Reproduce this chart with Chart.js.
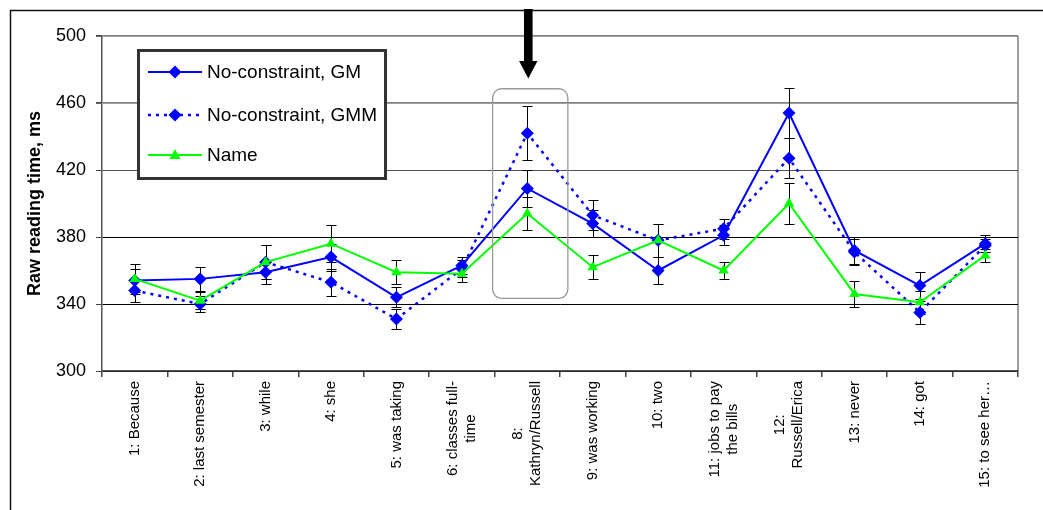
<!DOCTYPE html>
<html>
<head>
<meta charset="utf-8">
<script src="https://cdn.jsdelivr.net/npm/chart.js@4.4.1/dist/chart.umd.min.js"></script>
<style>
body{margin:0;background:#fff;}
</style>
</head>
<body>
<canvas id="rtChart" width="1043" height="510"></canvas>
<script>
// regions of the sentence (no region 7)
const regions = [
    ['1: Because'], ['2: last semester'], ['3: while'], ['4: she'], ['5: was taking'],
    ['6: classes full-', 'time'], ['8:', 'Kathryn/Russell'], ['9: was working'], ['10: two'],
    ['11: jobs to pay', 'the bills'], ['12:', 'Russell/Erica'], ['13: never'], ['14: got'], ['15: to see her…']
];
const gm      = [354, 355, 359, 368, 344, 363, 409, 388, 360, 381, 454, 372, 351, 376];
const gmm     = [348, 340, 365, 353, 331, 361, 442, 393, 378, 385, 427, 371, 335, 375];
const nameRt  = [355, 342, 365, 376, 359, 358, 394, 362, 378, 360, 400, 346, 341, 369];
const gmErr   = [7, 7, 7, 8, 6, 5, 11, 8, 8, 6, 15, 8, 8, 5];
const gmmErr  = [7, 5, 10, 8, 6, 5, 16, 9, 10, 6, 12, 8, 7, 4];
const nameErr = [9, 5, 10, 11, 7, 5, 10, 7, 10, 5, 12, 8, 7, 4];
const yTicks  = [300, 340, 380, 420, 460, 500];
const errs = [gmErr, gmmErr, nameErr];
const highlight = 6; // index of "8: Kathryn/Russell"

const FONT = "'Liberation Sans', Arial, sans-serif";

const frame = {
    id: 'frame',
    beforeDraw(chart){
        const ctx = chart.ctx, a = chart.chartArea;
        ctx.save();
        ctx.strokeStyle = '#111';
        ctx.lineWidth = 1.5;
        ctx.beginPath();
        ctx.moveTo(10.5, 1043); ctx.lineTo(10.5, 10.5); ctx.lineTo(1043, 10.5);
        ctx.stroke();
        ctx.strokeStyle = '#808080';
        ctx.lineWidth = 1.5;
        ctx.beginPath();
        ctx.moveTo(a.right, a.top); ctx.lineTo(a.right, a.bottom);
        ctx.stroke();
        ctx.restore();
    }
};

const errorBars = {
    id: 'errorBars',
    beforeDatasetsDraw(chart){
        const ctx = chart.ctx;
        const xs = chart.scales.x, ys = chart.scales.y;
        ctx.save();
        ctx.strokeStyle = '#000';
        ctx.lineWidth = 1;
        chart.data.datasets.forEach((ds, d) => {
            ds.data.forEach((v, i) => {
                const px = Math.round(xs.getPixelForValue(i)) + 0.5;
                const top = Math.round(ys.getPixelForValue(v + errs[d][i])) + 0.5;
                const bot = Math.round(ys.getPixelForValue(v - errs[d][i])) + 0.5;
                ctx.beginPath();
                ctx.moveTo(px, top); ctx.lineTo(px, bot);
                ctx.moveTo(px - 5, top); ctx.lineTo(px + 5, top);
                ctx.moveTo(px - 5, bot); ctx.lineTo(px + 5, bot);
                ctx.stroke();
            });
        });
        ctx.restore();
    }
};

function marker(ctx, style, x, y, color){
    ctx.fillStyle = color;
    ctx.beginPath();
    if(style == 'triangle'){
        ctx.moveTo(x, y - 6); ctx.lineTo(x + 5.5, y + 4); ctx.lineTo(x - 5.5, y + 4);
    }else{
        ctx.moveTo(x - 6.5, y); ctx.lineTo(x, y - 6.5); ctx.lineTo(x + 6.5, y); ctx.lineTo(x, y + 6.5);
    }
    ctx.closePath();
    ctx.fill();
}

const extras = {
    id: 'extras',
    afterDatasetsDraw(chart){
        const ctx = chart.ctx, a = chart.chartArea;
        const xs = chart.scales.x, ys = chart.scales.y;
        ctx.save();

        // rounded box round region 8
        const l = xs.getPixelForValue(highlight - 0.53), r = xs.getPixelForValue(highlight + 0.62);
        const t = ys.getPixelForValue(468.5), b = ys.getPixelForValue(343.4), rad = 9;
        ctx.strokeStyle = '#999';
        ctx.lineWidth = 1.3;
        ctx.beginPath();
        ctx.moveTo(l + rad, t);
        ctx.arcTo(r, t, r, b, rad); ctx.arcTo(r, b, l, b, rad);
        ctx.arcTo(l, b, l, t, rad); ctx.arcTo(l, t, r, t, rad);
        ctx.closePath();
        ctx.stroke();

        // arrow pointing at it
        const cx = xs.getPixelForValue(highlight) + 1;
        const tip = ys.getPixelForValue(474.7);
        ctx.fillStyle = '#000';
        ctx.fillRect(cx - 4.3, a.top - 27, 8.6, tip - 17 - (a.top - 27));
        ctx.beginPath();
        ctx.moveTo(cx - 9.2, tip - 17.5); ctx.lineTo(cx + 9.2, tip - 17.5); ctx.lineTo(cx, tip);
        ctx.closePath();
        ctx.fill();

        // legend
        ctx.fillStyle = '#fff';
        ctx.fillRect(137, 49, 250, 131);
        ctx.strokeStyle = '#333';
        ctx.lineWidth = 3;
        ctx.strokeRect(138.5, 50.5, 247, 128);
        const rows = [72, 115, 155];
        ctx.font = '19px ' + FONT;
        ctx.textBaseline = 'middle';
        ctx.textAlign = 'left';
        chart.data.datasets.forEach((ds, d) => {
            const y = rows[d];
            ctx.strokeStyle = ds.borderColor;
            ctx.lineWidth = ds.borderWidth;
            ctx.setLineDash(ds.borderDash || []);
            ctx.beginPath();
            ctx.moveTo(148, y); ctx.lineTo(202, y);
            ctx.stroke();
            ctx.setLineDash([]);
            marker(ctx, ds.pointStyle, 175, y, ds.pointBackgroundColor);
            ctx.fillStyle = '#000';
            ctx.fillText(ds.label, 207, y + 1);
        });
        ctx.restore();
    },
    afterDraw(chart){
        // category labels, rotated, lines centred
        const ctx = chart.ctx, xs = chart.scales.x;
        ctx.save();
        ctx.font = '15px ' + FONT;
        ctx.fillStyle = '#000';
        ctx.textAlign = 'center';
        ctx.textBaseline = 'middle';
        const lh = 18;
        regions.forEach((lines, i) => {
            const cx = xs.getPixelForValue(i);
            const w = Math.max(...lines.map(s => ctx.measureText(s).width));
            ctx.save();
            ctx.translate(cx, xs.top + 10 + w / 2);
            ctx.rotate(-Math.PI / 2);
            lines.forEach((s, j) => {
                ctx.fillText(s, 0, (j - (lines.length - 1) / 2) * lh);
            });
            ctx.restore();
        });
        ctx.restore();
    }
};

new Chart(document.getElementById('rtChart').getContext('2d'), {
    type: 'line',
    data: {
        labels: regions,
        datasets: [{
            label: 'No-constraint, GM',
            data: gm,
            borderColor: '#0000ff',
            borderWidth: 2,
            pointStyle: 'rectRot',
            pointRadius: 6.5,
            pointBorderWidth: 0,
            pointBackgroundColor: '#0000ff',
            tension: 0,
            order: 2
        }, {
            label: 'No-constraint, GMM',
            data: gmm,
            borderColor: '#0000ff',
            borderWidth: 2.5,
            borderDash: [3, 5],
            pointStyle: 'rectRot',
            pointRadius: 6.5,
            pointBorderWidth: 0,
            pointBackgroundColor: '#0000ff',
            tension: 0,
            order: 3
        }, {
            label: 'Name',
            data: nameRt,
            borderColor: '#00ff00',
            borderWidth: 2,
            pointStyle: 'triangle',
            pointRadius: 6,
            pointBorderWidth: 0,
            pointBackgroundColor: '#00ff00',
            tension: 0,
            order: 1
        }]
    },
    options: {
        responsive: false,
        animation: false,
        layout: { padding: { left: 10, top: 36, right: 25, bottom: 0 } },
        plugins: { legend: { display: false }, tooltip: { enabled: false } },
        scales: {
            x: {
                offset: true,
                afterFit: s => { s.height = 139; },
                ticks: { display: false },
                grid: { offset: true, drawOnChartArea: false, tickLength: 6, color: '#444', lineWidth: 1.5 },
                border: { color: '#555', width: 1.5 }
            },
            y: {
                min: 300,
                max: 500,
                afterFit: s => { s.width = 92; },
                afterBuildTicks: s => { s.ticks = yTicks.map(v => ({ value: v })); },
                ticks: { color: '#000', font: { family: FONT, size: 18 }, padding: 10 },
                grid: {
                    tickLength: 6,
                    tickColor: '#444',
                    color: c => c.tick && c.tick.value >= 460 ? '#808080' : (c.tick && c.tick.value == 420 ? '#505050' : '#000'),
                    lineWidth: c => c.tick && c.tick.value >= 460 ? 1.8 : 1
                },
                border: { color: '#555', width: 1.5 },
                title: {
                    display: true,
                    text: 'Raw reading time, ms',
                    color: '#000',
                    font: { family: FONT, size: 18, weight: 'bold' },
                    padding: { top: 14, bottom: 0 }
                }
            }
        }
    },
    plugins: [frame, errorBars, extras]
});
</script>
</body>
</html>
